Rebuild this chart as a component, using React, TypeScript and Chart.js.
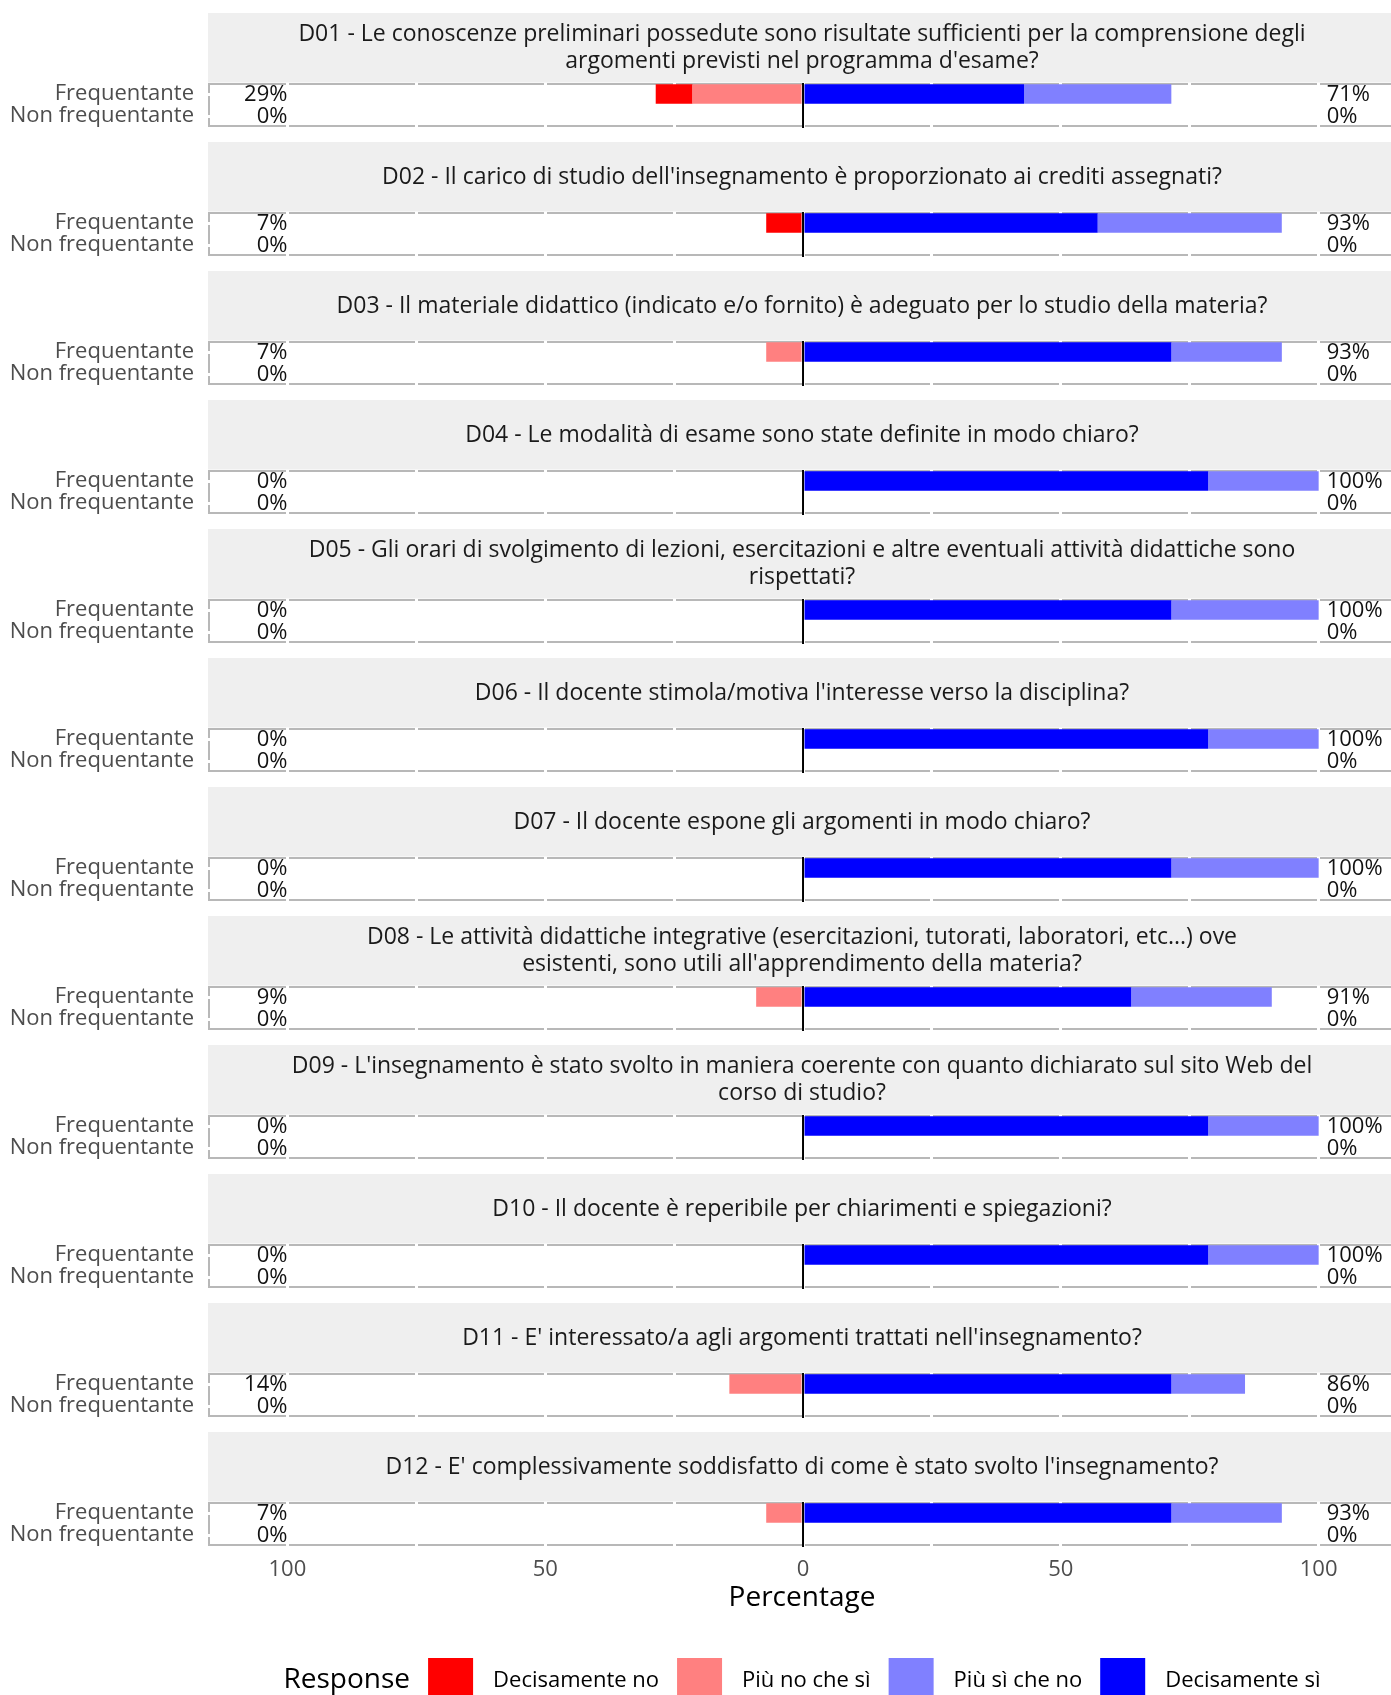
import React, { useEffect, useRef } from 'react';
import { Chart, registerables } from 'chart.js';

Chart.register(...registerables);

const FONT = "'Open Sans', sans-serif";

// ---- data ----
const questions: string[][] = [
  ["D01 - Le conoscenze preliminari possedute sono risultate sufficienti per la comprensione degli", "argomenti previsti nel programma d'esame?"],
  ["D02 - Il carico di studio dell'insegnamento è proporzionato ai crediti assegnati?"],
  ["D03 - Il materiale didattico (indicato e/o fornito) è adeguato per lo studio della materia?"],
  ["D04 - Le modalità di esame sono state definite in modo chiaro?"],
  ["D05 - Gli orari di svolgimento di lezioni, esercitazioni e altre eventuali attività didattiche sono", "rispettati?"],
  ["D06 - Il docente stimola/motiva l'interesse verso la disciplina?"],
  ["D07 - Il docente espone gli argomenti in modo chiaro?"],
  ["D08 - Le attività didattiche integrative (esercitazioni, tutorati, laboratori, etc...) ove", "esistenti, sono utili all'apprendimento della materia?"],
  ["D09 - L'insegnamento è stato svolto in maniera coerente con quanto dichiarato sul sito Web del", "corso di studio?"],
  ["D10 - Il docente è reperibile per chiarimenti e spiegazioni?"],
  ["D11 - E' interessato/a agli argomenti trattati nell'insegnamento?"],
  ["D12 - E' complessivamente soddisfatto di come è stato svolto l'insegnamento?"],
];

const groups = ['Frequentante', 'Non frequentante'];
const responses = ['Decisamente no', 'Più no che sì', 'Più sì che no', 'Decisamente sì'];
const responseColors = ['#FF0000', '#FF8080', '#8080FF', '#0000FF'];

// Frequentante (percent)
const freqDecisamenteNo = [7.14, 7.14, 0, 0, 0, 0, 0, 0, 0, 0, 0, 0];
const freqPiuNoCheSi = [21.43, 0, 7.14, 0, 0, 0, 0, 9.09, 0, 0, 14.29, 7.14];
const freqPiuSiCheNo = [28.57, 35.71, 21.43, 21.43, 28.57, 21.43, 28.57, 27.27, 21.43, 21.43, 14.29, 21.43];
const freqDecisamenteSi = [42.86, 57.14, 71.43, 78.57, 71.43, 78.57, 71.43, 63.64, 78.57, 78.57, 71.43, 71.43];

// Non frequentante (percent)
const nonFreqDecisamenteNo = [0, 0, 0, 0, 0, 0, 0, 0, 0, 0, 0, 0];
const nonFreqPiuNoCheSi = [0, 0, 0, 0, 0, 0, 0, 0, 0, 0, 0, 0];
const nonFreqPiuSiCheNo = [0, 0, 0, 0, 0, 0, 0, 0, 0, 0, 0, 0];
const nonFreqDecisamenteSi = [0, 0, 0, 0, 0, 0, 0, 0, 0, 0, 0, 0];

const xTickValues = [-100, -75, -50, -25, 0, 25, 50, 75, 100];
const xTickLabels = ['100', '', '50', '', '0', '', '50', '', '100'];
const xTitle = 'Percentage';
const legendTitle = 'Response';

// ---- layout ----
const CANVAS_W = 1396;
const STRIP_H = 70;
const PANEL_H = 44;
const PITCH = 129;
const FIRST_TOP = 13;
const LAST_H = 280;
const AXIS_H = 69;
const TEXT_PX = 22;
const STRIP_PX = 23;
const TITLE_PX = 28;

function Facet({ index, isLast }: { index: number; isLast: boolean }) {
  const ref = useRef<HTMLCanvasElement>(null);
  const height = isLast ? LAST_H : PITCH;
  const bottomPad = isLast ? LAST_H - STRIP_H - PANEL_H - AXIS_H : PITCH - STRIP_H - PANEL_H;

  useEffect(() => {
    const canvas = ref.current;
    if (!canvas) return;
    const freq = [freqDecisamenteNo[index], freqPiuNoCheSi[index], freqPiuSiCheNo[index], freqDecisamenteSi[index]];
    const nonFreq = [nonFreqDecisamenteNo[index], nonFreqPiuNoCheSi[index], nonFreqPiuSiCheNo[index], nonFreqDecisamenteSi[index]];
    const negTotals = [freq[0] + freq[1], nonFreq[0] + nonFreq[1]];
    const posTotals = [freq[2] + freq[3], nonFreq[2] + nonFreq[3]];
    const lines = questions[index];

    const facetPlugin = {
      id: 'facet',
      beforeDraw(chart: any) {
        const { ctx, chartArea } = chart;
        ctx.save();
        ctx.fillStyle = '#EFEFEF';
        ctx.fillRect(chartArea.left, 0, chart.width - chartArea.left, STRIP_H - 0.5);
        ctx.fillStyle = '#1A1A1A';
        ctx.font = `${STRIP_PX}px ${FONT}`;
        ctx.textAlign = 'center';
        ctx.textBaseline = 'middle';
        const cx = (chartArea.left + chartArea.right) / 2;
        const lh = 27;
        const y0 = STRIP_H / 2 - ((lines.length - 1) * lh) / 2;
        lines.forEach((l, k) => ctx.fillText(l, cx, y0 + k * lh));
        ctx.strokeStyle = '#B8B8B8';
        ctx.lineWidth = 2;
        ctx.strokeRect(chartArea.left + 1, chartArea.top + 1, chartArea.width - 2, chartArea.height - 2);
        ctx.restore();
      },
      afterDatasetsDraw(chart: any) {
        const { ctx, chartArea, scales } = chart;
        const xs = scales.x;
        const ys = scales.y;
        ctx.save();
        const x0 = xs.getPixelForValue(0);
        ctx.strokeStyle = '#000';
        ctx.lineWidth = 2;
        ctx.beginPath();
        ctx.moveTo(x0, chartArea.top);
        ctx.lineTo(x0, chartArea.bottom + 1);
        ctx.stroke();
        ctx.font = `${TEXT_PX}px ${FONT}`;
        ctx.fillStyle = '#111';
        ctx.textBaseline = 'middle';
        groups.forEach((_, k) => {
          const py = ys.getPixelForValue(k) + 1;
          ctx.textAlign = 'right';
          ctx.fillText(`${Math.round(negTotals[k])}%`, xs.getPixelForValue(-100), py);
          ctx.textAlign = 'left';
          ctx.fillText(`${Math.round(posTotals[k])}%`, xs.getPixelForValue(100) + 8, py);
        });
        ctx.restore();
      },
      afterDraw(chart: any) {
        if (!isLast) return;
        const { ctx, chartArea } = chart;
        ctx.save();
        const legendY = 248.5;
        const cx = (chartArea.left + chartArea.right) / 2;
        ctx.font = `${TITLE_PX}px ${FONT}`;
        const wTitle = ctx.measureText(legendTitle).width;
        ctx.font = `${TEXT_PX}px ${FONT}`;
        const widths = responses.map((r) => ctx.measureText(r).width);
        const box = 45;
        const total = wTitle + widths.reduce((a, w) => a + 18 + box + 20 + w, 0);
        let x = cx - total / 2;
        ctx.textBaseline = 'middle';
        ctx.textAlign = 'left';
        ctx.fillStyle = '#000';
        ctx.font = `${TITLE_PX}px ${FONT}`;
        ctx.fillText(legendTitle, x, legendY);
        x += wTitle + 18;
        ctx.font = `${TEXT_PX}px ${FONT}`;
        responses.forEach((r, k) => {
          ctx.fillStyle = responseColors[k];
          ctx.fillRect(x, legendY - box / 2, box, box);
          ctx.fillStyle = '#000';
          ctx.fillText(r, x + box + 20, legendY);
          x += box + 20 + widths[k] + 18;
        });
        ctx.restore();
      },
    };

    const ds = (label: string, data: number[], color: string) => ({
      label,
      data,
      backgroundColor: color,
      borderWidth: 0,
      categoryPercentage: 1,
      barPercentage: 0.88,
    });

    const chart = new Chart(canvas, {
      type: 'bar',
      data: {
        labels: groups,
        datasets: [
          ds(responses[1], [-freq[1], -nonFreq[1]], responseColors[1]),
          ds(responses[0], [-freq[0], -nonFreq[0]], responseColors[0]),
          ds(responses[3], [freq[3], nonFreq[3]], responseColors[3]),
          ds(responses[2], [freq[2], nonFreq[2]], responseColors[2]),
        ],
      },
      options: {
        responsive: false,
        animation: false,
        indexAxis: 'y',
        layout: { padding: { top: STRIP_H, right: 0, left: 0, bottom: bottomPad } },
        plugins: {
          legend: { display: false },
          tooltip: { enabled: false },
          title: { display: false },
        },
        scales: {
          x: {
            type: 'linear',
            stacked: true,
            min: -115.4,
            max: 115,
            afterBuildTicks: (s: any) => {
              s.ticks = xTickValues.map((v) => ({ value: v }));
            },
            afterFit: (s: any) => {
              s.height = isLast ? AXIS_H : 0;
              s.paddingLeft = 0;
              s.paddingRight = 0;
              s.paddingTop = 0;
              s.paddingBottom = 0;
            },
            grid: { color: '#FFFFFF', lineWidth: 3, drawTicks: false },
            border: { display: false },
            ticks: {
              display: isLast,
              autoSkip: false,
              maxRotation: 0,
              padding: 11,
              color: '#4D4D4D',
              font: { family: FONT, size: TEXT_PX },
              callback: (_v: any, i: number) => xTickLabels[i],
            },
            title: {
              display: isLast,
              text: xTitle,
              color: '#000',
              font: { family: FONT, size: TITLE_PX },
              padding: { top: 0, bottom: 0 },
            },
          },
          y: {
            type: 'category',
            stacked: true,
            offset: true,
            afterFit: (s: any) => {
              s.width = 208;
              s.paddingTop = 0;
              s.paddingBottom = 0;
              s.paddingLeft = 0;
              s.paddingRight = 0;
            },
            grid: { color: '#FFFFFF', lineWidth: 3, drawTicks: false, offset: false },
            border: { display: false },
            ticks: { autoSkip: false, color: '#4D4D4D', font: { family: FONT, size: TEXT_PX }, padding: 14 },
          },
        },
      } as any,
      plugins: [facetPlugin],
    });
    return () => chart.destroy();
  }, [index, isLast]);

  return (
    <canvas
      ref={ref}
      width={CANVAS_W}
      height={height}
      style={{
        position: 'absolute',
        left: 0,
        top: FIRST_TOP + PITCH * index,
        width: CANVAS_W,
        height,
        display: 'block',
      }}
    />
  );
}

export default function App() {
  return (
    <div
      style={{
        position: 'absolute',
        left: 0,
        top: 0,
        width: 1391,
        height: 1695,
        overflow: 'hidden',
        background: '#FFFFFF',
      }}
    >
      {questions.map((_, i) => (
        <Facet key={i} index={i} isLast={i === questions.length - 1} />
      ))}
    </div>
  );
}
